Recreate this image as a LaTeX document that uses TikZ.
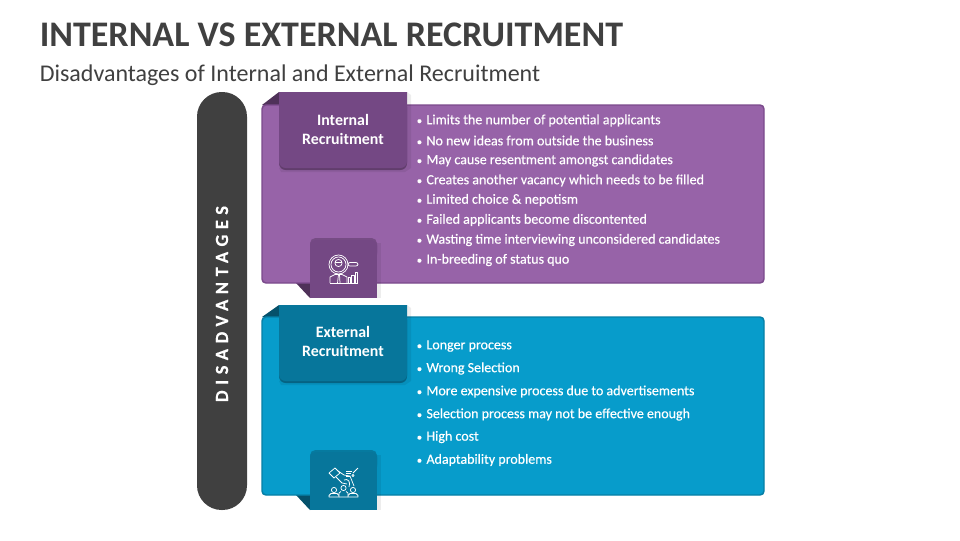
\documentclass[tikz,border=0pt]{standalone}
\usepackage{fontspec}
\setmainfont{Carlito}
\definecolor{purpleMain}{HTML}{9763A8}
\definecolor{purpleDark}{HTML}{744884}
\definecolor{purpleEdge}{HTML}{7B4A8C}
\definecolor{purpleFold}{HTML}{4F3159}
\definecolor{blueMain}{HTML}{079CCB}
\definecolor{blueDark}{HTML}{07769B}
\definecolor{blueEdge}{HTML}{067FA6}
\definecolor{blueFold}{HTML}{05516B}
\definecolor{pill}{HTML}{404040}
\definecolor{titleInk}{HTML}{404040}
\tikzset{
  px/.style={x=0.75pt,y=-0.75pt},
  panel/.style={line width=1.1pt,rounded corners=3pt},
  softshadow/.style={fill=black,opacity=0.07,draw=none},
  tabtext/.style={text=white,align=center,font=\fontsize{11.9pt}{14.3pt}\selectfont\bfseries},
  itemtext/.style={text=white,anchor=west,inner sep=0pt,font=\fontsize{10.5pt}{12pt}\selectfont\addfontfeature{FakeBold=0.4}},
  icon/.style={draw=white,line width=0.55pt,fill=none,line join=round},
}
\newcommand{\items}[2]{\foreach \yy/\tt in {#2} {\node[itemtext] at (416.5,\yy) {{\fontsize{8pt}{10pt}\selectfont •}\hspace{3.3pt}\tt};}}
\begin{document}
\begin{tikzpicture}[px]
\useasboundingbox (0,0) rectangle (960,540);
\fill[white] (0,0) rectangle (960,540);
\node[anchor=west,inner sep=0pt,text=titleInk,font=\fontsize{27pt}{30pt}\selectfont\bfseries] (title) at (39.5,35) {INTERNAL VS EXTERNAL RECRUITMENT};
\node[anchor=west,inner sep=0pt,text=titleInk,font=\fontsize{18pt}{21pt}\selectfont] (subtitle) at (39.5,75.5) {Disadvantages of Internal and External Recruitment};
% pill
\fill[pill,rounded corners=18.5pt] (197,92) rectangle (247,510);
\node[rotate=90,text=white,font=\fontsize{13.9pt}{16pt}\selectfont\bfseries\addfontfeature{LetterSpace=30,FakeBold=0.3}] (sidelabel) at (222,304) {DISADVANTAGES};
% purple group
\fill[purpleFold] (262,105) -- (279,92) -- (279,105) -- cycle;
\fill[purpleFold] (296,283) -- (310,298) -- (310,283) -- cycle;
\draw[panel,fill=purpleMain,draw=purpleEdge] (262,105) rectangle (764,283);
\fill[softshadow] (407,92) -- (411,95) -- (411,168) -- (405,172) -- (281,172) -- (279,168) -- cycle;
\fill[purpleFold,opacity=0.7,rounded corners=5pt] (279,100) rectangle (407,170);
\fill[purpleDark] (279,92) -- (407,92) -- (407,162) [rounded corners=5pt] -- (407,168) -- (279,168) [sharp corners] -- cycle;
\node[tabtext] (internal) at (343,129.5) {Internal\\Recruitment};
\fill[softshadow] (377,243) rectangle (381,298);
\fill[purpleFold,opacity=0.45,rounded corners=4pt] (310,238) rectangle (377,258);
\fill[purpleDark,rounded corners=4pt] (310,240) rectangle (377,260);
\fill[purpleDark] (310,250) rectangle (377,298);
\items{}{120.5/Limits the number of potential applicants,140.5/No new ideas from outside the business,160.5/May cause resentment amongst candidates,180.5/Creates another vacancy which needs to be filled,200/Limited choice \& nepotism,220/Failed applicants become discontented,240/Wasting time interviewing unconsidered candidates,260/In-breeding of status quo}
% magnifier icon
\draw[icon] (338.5,264.5) circle (9.5);
\draw[icon] (338.5,264.5) circle (7.5);
\draw[icon] (338.5,263) circle (3.6);
\draw[icon] (335,262) -- (342,262);
\draw[icon,rounded corners=1.5pt] (348,262.5) rectangle (358,266);
\draw[icon] (330,283) -- (330,277) -- (335,274.5) -- (342,274.5) -- (347,277) -- (347,283);
\draw[icon] (338.5,274.5) -- (337.5,283) (339.5,274.5) -- (340,283);
\draw[icon] (330,283) -- (358,283);
\draw[icon] (348,283) rectangle (350.5,277);
\draw[icon] (351.5,283) rectangle (354,275);
\draw[icon] (355,283) rectangle (357.5,272);
% blue group
\fill[blueFold] (262,317) -- (279,305) -- (279,317) -- cycle;
\fill[blueFold] (296,495) -- (310,510) -- (310,495) -- cycle;
\draw[panel,fill=blueMain,draw=blueEdge] (262,317) rectangle (764,495);
\fill[softshadow] (407,305) -- (411,308) -- (411,381) -- (405,385) -- (281,385) -- (279,381) -- cycle;
\fill[blueFold,opacity=0.7,rounded corners=5pt] (279,313) rectangle (407,383);
\fill[blueDark] (279,305) -- (407,305) -- (407,375) [rounded corners=5pt] -- (407,381) -- (279,381) [sharp corners] -- cycle;
\node[tabtext] (external) at (343,341.5) {External\\Recruitment};
\fill[softshadow] (377,455) rectangle (381,510);
\fill[blueFold,opacity=0.45,rounded corners=4pt] (310,450) rectangle (377,470);
\fill[blueDark,rounded corners=4pt] (310,452) rectangle (377,472);
\fill[blueDark] (310,462) rectangle (377,510);
\items{}{346/Longer process,368.5/Wrong Selection,391.5/More expensive process due to advertisements,414.5/Selection process may not be effective enough,437/High cost,460/Adaptability problems}
% hand icon
\draw[icon] (329,473) -- (335,468) -- (340,473) -- (334,478) -- cycle;
\draw[icon] (338,471) -- (344,475) -- (350,476) -- (354,486);
\draw[icon] (336,477) -- (342,483) -- (347,484);
\draw[icon] (344,480) .. controls (348,478) and (351,482) .. (349,487);
\draw[icon] (346,471) -- (352,471) (346,473.5) -- (351,473.5) (346,476) -- (350,476);
\draw[icon] (353,473) -- (358,468);
\draw[icon] (353,475.5) circle (1.2);
\draw[icon] (334,490) circle (2.6);
\draw[icon] (343.5,488) circle (2.6);
\draw[icon] (353,490) circle (2.6);
\draw[icon] (329,497) -- (329,495.5) -- (331,493.5) -- (337,493.5) -- (339,495.5) -- (339,497) -- cycle;
\draw[icon] (348,497) -- (348,495.5) -- (350,493.5) -- (356,493.5) -- (358,495.5) -- (358,497) -- cycle;
\draw[icon] (339,497) -- (348,497) (339,495) -- (339,493) -- (341,491.5) (346,491.5) -- (348,493) -- (348,495);
\end{tikzpicture}
\end{document}
